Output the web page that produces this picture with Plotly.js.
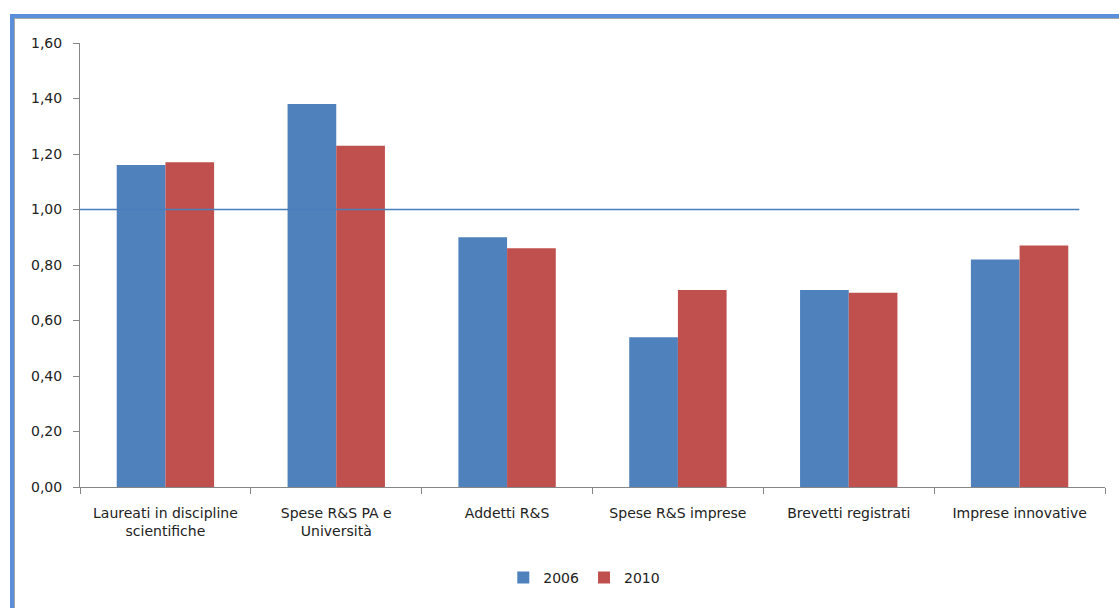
<!DOCTYPE html>
<html>
<head>
<meta charset="utf-8">
<script src="https://cdn.plot.ly/plotly-3.0.1.min.js"></script>
<style>
  html, body { margin: 0; padding: 0; background: #ffffff; }
  #frame {
    position: absolute; left: 10px; top: 14px; width: 1109px; height: 594px;
    border-left: 4px solid #5a8ed8; border-top: 4px solid #5a8ed8;
    box-shadow: inset 1px 1px 0 #a8a8a8;
  }
  #chart { position: absolute; left: 0; top: 0; width: 1119px; height: 608px; }
</style>
</head>
<body>
<div id="frame"></div>
<div id="chart"></div>
<script>
// Indicator categories (x axis)
const categories = [
  "Laureati in discipline<br>scientifiche",
  "Spese R&S PA e<br>Università",
  "Addetti R&S",
  "Spese R&S imprese",
  "Brevetti registrati",
  "Imprese innovative"
];

// Index values per year
const values2006 = [1.16, 1.38, 0.90, 0.54, 0.71, 0.82];
const values2010 = [1.17, 1.23, 0.86, 0.71, 0.70, 0.87];

// Reference level
const referenceLevel = 1.0;

const seriesNames = ["2006", "2010"];

const traces = [
  {
    type: "bar", name: seriesNames[0], x: categories, y: values2006,
    marker: { color: "#4f81bd" }
  },
  {
    type: "bar", name: seriesNames[1], x: categories, y: values2010,
    marker: { color: "#c0504d" }
  }
];

const layout = {
  width: 1119, height: 608,
  margin: { l: 80, r: 14, t: 43, b: 121 },
  paper_bgcolor: "rgba(0,0,0,0)",
  plot_bgcolor: "rgba(0,0,0,0)",
  separators: ",.",
  font: { family: "DejaVu Sans, Verdana, sans-serif", size: 14, color: "#222" },
  barmode: "group",
  bargap: 0.43,
  bargroupgap: 0,
  showlegend: true,
  legend: {
    orientation: "h", x: 0.492, xanchor: "center", y: -0.205, yanchor: "middle",
    font: { size: 14 }, itemwidth: 30, tracegroupgap: 0
  },
  xaxis: {
    type: "category", range: [-0.5, 5.5], autorange: false,
    showline: true, linecolor: "#868686", linewidth: 1,
    ticks: "outside", tickson: "boundaries", ticklen: 6, tickcolor: "#868686",
    ticklabelstandoff: 13,
    showgrid: false, zeroline: false, fixedrange: true
  },
  yaxis: {
    range: [0, 1.6], dtick: 0.2, tickformat: ".2f",
    showline: true, linecolor: "#868686", linewidth: 1,
    ticks: "outside", ticklen: 6, tickcolor: "#868686",
    ticklabelstandoff: 8,
    showgrid: false, zeroline: false, fixedrange: true
  },
  shapes: [
    {
      type: "line", xref: "x", yref: "y",
      x0: -0.52, x1: 5.35, y0: referenceLevel, y1: referenceLevel,
      line: { color: "#4a7ebb", width: 1.3 }
    }
  ]
};

Plotly.newPlot("chart", traces, layout, { displayModeBar: false, staticPlot: true });
</script>
</body>
</html>
